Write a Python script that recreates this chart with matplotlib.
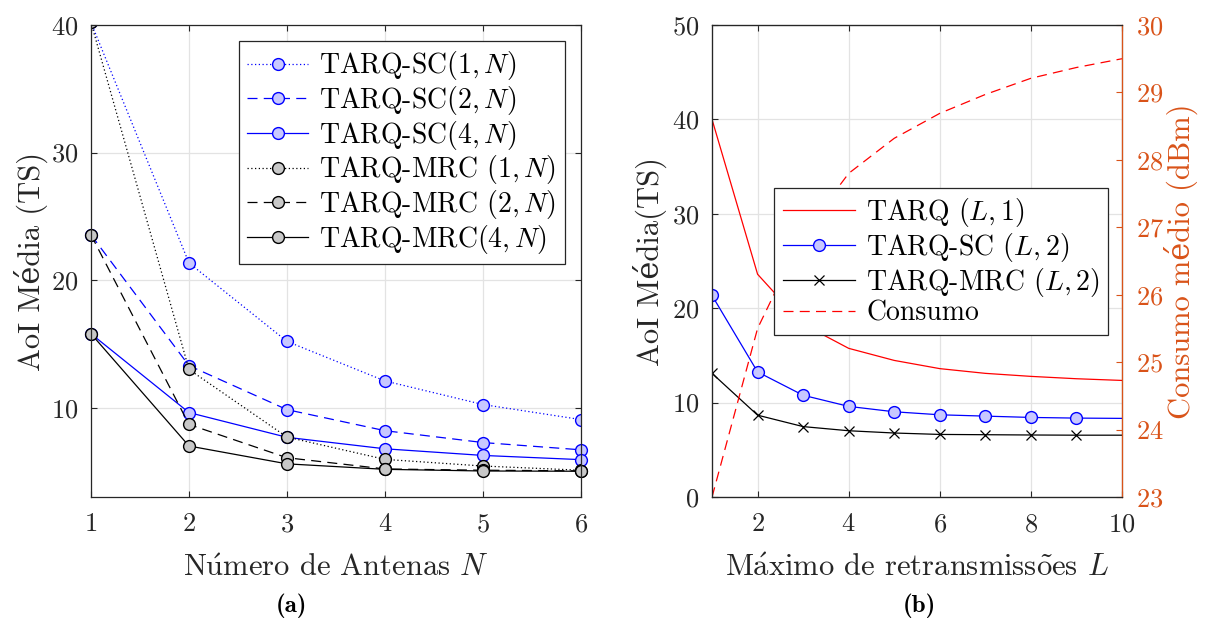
import numpy as np
import matplotlib
matplotlib.use('Agg')
from matplotlib import pyplot as plt

plt.rcParams['font.family'] = ['cmr10', 'DejaVu Serif']
plt.rcParams['mathtext.fontset'] = 'cm'
plt.rcParams['axes.formatter.use_mathtext'] = True

# (a) AoI vs number of antennas
N = [1, 2, 3, 4, 5, 6]
sc1 = [40.2, 21.35, 15.2, 12.1, 10.25, 9.07]
sc2 = [23.55, 13.3, 9.85, 8.2, 7.27, 6.7]
sc4 = [15.8, 9.62, 7.68, 6.78, 6.26, 5.93]
mrc1 = [40.2, 13.0, 7.7, 5.95, 5.43, 5.1]
mrc2 = [23.55, 8.69, 6.08, 5.2, 5.1, 5.05]
mrc4 = [15.8, 7.0, 5.6, 5.17, 5.04, 5.02]

# (b) AoI and consumption vs max retransmissions
L = [1, 2, 3, 4, 5, 6, 7, 8, 9, 10]
tarq = [40.0, 23.6, 18.3, 15.75, 14.47, 13.6, 13.1, 12.78, 12.53, 12.35]
tarq_sc = [21.35, 13.25, 10.78, 9.6, 9.03, 8.71, 8.57, 8.43, 8.36, 8.33]
tarq_mrc = [13.1, 8.67, 7.46, 7.02, 6.78, 6.63, 6.6, 6.57, 6.55, 6.55]
consumo = [23.0, 25.5, 26.9, 27.8, 28.32, 28.69, 28.97, 29.21, 29.37, 29.5]

blue = '#0000ff'
lblue = '#c8c8ff'
gray = '#c8c8c8'
orange = '#d95319'
axc = '#262626'
dot = (0, (1, 2))
dash = (0, (8, 5))

fig = plt.figure(figsize=(12.05, 6.24), dpi=100)
ax = fig.add_axes([0.0755, 0.2035, 0.4066, 0.7564])

ms = 8.5
ax.plot(N, sc1, color=blue, ls=dot, lw=0.9, marker='o', ms=ms, mfc=lblue, mec=blue, label='TARQ-SC$(1,N)$')
ax.plot(N, sc2, color=blue, ls=dash, lw=0.9, marker='o', ms=ms, mfc=lblue, mec=blue, label='TARQ-SC$(2,N)$', clip_on=False)
ax.plot(N, sc4, color=blue, ls='-', lw=0.9, marker='o', ms=ms, mfc=lblue, mec=blue, label='TARQ-SC$(4,N)$', clip_on=False)
ax.plot(N, mrc1, color='k', ls=dot, lw=0.9, marker='o', ms=ms, mfc=gray, mec='k', label='TARQ-MRC $(1,N)$')
ax.plot(N, mrc2, color='k', ls=dash, lw=0.9, marker='o', ms=ms, mfc=gray, mec='k', label='TARQ-MRC $(2,N)$', clip_on=False)
ax.plot(N, mrc4, color='k', ls='-', lw=0.9, marker='o', ms=ms, mfc=gray, mec='k', label='TARQ-MRC$(4,N)$', clip_on=False)

ax.set_xlim(1, 6)
ax.set_ylim(3, 40)
ax.set_xticks(N)
ax.set_yticks([10, 20, 30, 40])
ax.grid(True, color='#e3e3e3', lw=0.9)
ax.set_axisbelow(True)
ax.tick_params(direction='in', top=True, right=True, length=4, labelsize=19, colors=axc, labelcolor='#262626')
ax.tick_params(axis='x', pad=11)
ax.tick_params(axis='y', pad=9)
for s in ax.spines.values():
    s.set_color(axc)
    s.set_linewidth(0.9)
ax.set_xlabel(r'N$\mathrm{\acute{u}}$mero de Antenas $N$', fontsize=22, color='#262626', labelpad=13)
ax.set_ylabel('AoI Média (TS)', fontsize=22, color='#262626', labelpad=2)
leg = ax.legend(loc='upper right', bbox_to_anchor=(0.967, 0.966), fontsize=20, frameon=True,
                fancybox=False, framealpha=1, edgecolor=axc, borderaxespad=0,
                handlelength=2.2, labelspacing=0.06, borderpad=0.3, handletextpad=0.4)
leg.get_frame().set_linewidth(0.9)

# right panel
bx = fig.add_axes([0.5909, 0.2035, 0.3402, 0.7564])
bx2 = bx.twinx()
h1, = bx.plot(L, tarq, color='r', lw=0.9, label='TARQ $(L,1)$')
h2, = bx.plot(L, tarq_sc, color=blue, lw=0.9, marker='o', ms=ms, mfc=lblue, mec=blue,
              markevery=list(range(9)), label='TARQ-SC $(L,2)$')
h3, = bx.plot(L, tarq_mrc, color='k', lw=0.9, marker='x', ms=7, mew=0.9,
              markevery=list(range(9)), label='TARQ-MRC $(L,2)$')
h4, = bx2.plot(L, consumo, color='r', ls=dash, lw=0.9, label='Consumo')

bx.set_xlim(1, 10)
bx.set_ylim(0, 50)
bx.set_xticks([2, 4, 6, 8, 10])
bx.set_yticks([0, 10, 20, 30, 40, 50])
bx.grid(True, color='#e3e3e3', lw=0.9)
bx.set_axisbelow(True)
bx.tick_params(direction='in', top=True, length=4, labelsize=19, colors=axc, labelcolor='#262626')
bx.tick_params(axis='x', pad=11)
bx.tick_params(axis='y', pad=9)
bx.set_xlabel(r'M$\mathrm{\acute{a}}$ximo de retransmiss$\mathrm{\tilde{o}}$es $L$', fontsize=22,
              color='#262626', labelpad=13)
bx.set_ylabel('AoI Média(TS)', fontsize=22, color='#262626')

bx2.set_ylim(23, 30)
bx2.set_yticks(range(23, 31))
bx2.tick_params(direction='in', length=4, labelsize=19, colors=orange, pad=10)
bx2.set_ylabel('Consumo médio (dBm)', fontsize=22, color=orange, labelpad=0)
for s in ['left', 'top', 'bottom']:
    bx.spines[s].set_color(axc)
    bx2.spines[s].set_color(axc)
bx2.spines['right'].set_color(orange)
for s in bx2.spines.values():
    s.set_linewidth(0.9)

leg2 = bx2.legend([h1, h2, h3, h4], [h.get_label() for h in [h1, h2, h3, h4]],
                  loc='upper right', bbox_to_anchor=(0.966, 0.655), fontsize=20, frameon=True,
                  fancybox=False, framealpha=1, edgecolor=axc, borderaxespad=0,
                  handlelength=2.6, labelspacing=0.06, borderpad=0.3, handletextpad=0.4)
leg2.get_frame().set_linewidth(0.9)

fig.text(0.2415, 0.03, '(a)', fontsize=18, fontfamily='cmb10', ha='center', va='center')
fig.text(0.7627, 0.03, '(b)', fontsize=18, fontfamily='cmb10', ha='center', va='center')

fig.savefig('out.png', dpi=100)
